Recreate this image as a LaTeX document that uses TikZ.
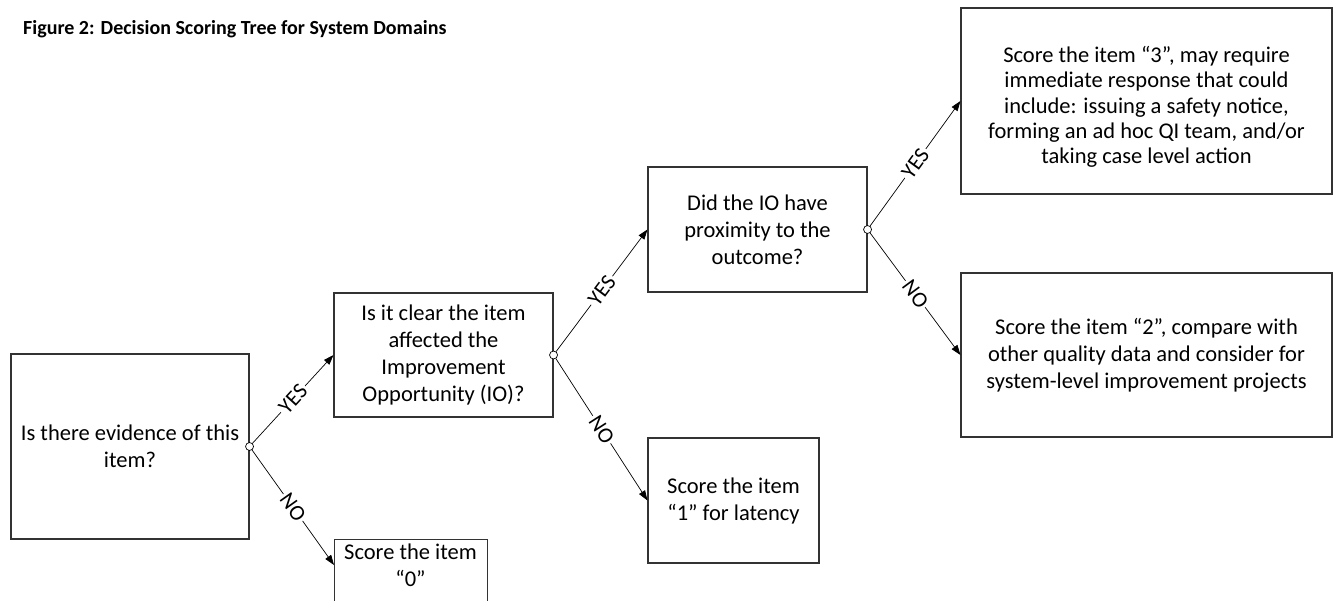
\documentclass[tikz,border=0pt]{standalone}
\usepackage{fontspec}
\setmainfont{Carlito}
\usetikzlibrary{arrows.meta}
\begin{document}
\begin{tikzpicture}[x=1pt,y=-1pt,
  box/.style={draw=black!80, line width=1.1pt, inner sep=0pt, align=center,
              font=\fontsize{22.5}{27}\selectfont},
  txt/.style={inner sep=0pt, align=center, font=\fontsize{22.5}{27}\selectfont},
  lbl/.style={fill=white, inner sep=2pt, sloped, pos=0.5, font=\fontsize{22}{26}\selectfont},
  arr/.style={-{Triangle[length=10pt,width=7pt]}, line width=0.7pt},
  brdot/.style={circle, draw, fill=white, minimum size=8pt, inner sep=0pt, line width=0.7pt}]
\useasboundingbox (0,0) rectangle (1337,601);
\clip (0,0) rectangle (1337,601);

\node[anchor=base west, inner sep=0pt, font=\fontsize{20}{24}\selectfont\bfseries] (title) at (23,35)
  {Figure 2: Decision Scoring Tree for System Domains};

\node[box, minimum width=238, minimum height=185] (b1) at (130,446.5)
  {Is there evidence of this\\item?};
\node[box, minimum width=219, minimum height=124] (b2) at (443.5,355)
  {Is it clear the item\\affected the\\Improvement\\Opportunity (IO)?};
\node[box, minimum width=219, minimum height=125] (b4) at (757.5,229.5)
  {Did the IO have\\proximity to the\\outcome?};
\node[box, minimum width=171, minimum height=125] (b3) at (733.5,500.5)
  {Score the item\\“1” for latency};
\node[box, minimum width=371, minimum height=186] (b5) at (1146.5,101)
  {};
\node[txt, font=\fontsize{22.5}{25.2}\selectfont] (b5t) at (1146.5,107)
  {Score the item “3”, may require\\immediate response that could\\include: issuing a safety notice,\\forming an ad hoc QI team, and/or\\taking case level action};
\node[box, minimum width=371, minimum height=164] (b6) at (1146.5,355)
  {Score the item “2”, compare with\\other quality data and consider for\\system-level improvement projects};
\node[box, anchor=north west, minimum width=153, minimum height=100] (b0) at (334,539) {};
\node[txt] (b0t) at (410.5,565) {Score the item\\“0”};

\node[brdot] (d1) at (b1.east) {};
\node[brdot] (d2) at (b2.east) {};
\node[brdot] (d4) at (b4.east) {};

\draw[arr] (d1) -- node[lbl] {YES} (b2.west);
\draw[arr] (d1) -- node[lbl] {NO} (b0.west |- b0t);
\draw[arr] (d2) -- node[lbl] {YES} (b4.west);
\draw[arr] (d2) -- node[lbl] {NO} (b3.west);
\draw[arr] (d4) -- node[lbl] {YES} (b5.west);
\draw[arr] (d4) -- node[lbl] {NO} (b6.west);
\end{tikzpicture}
\end{document}
